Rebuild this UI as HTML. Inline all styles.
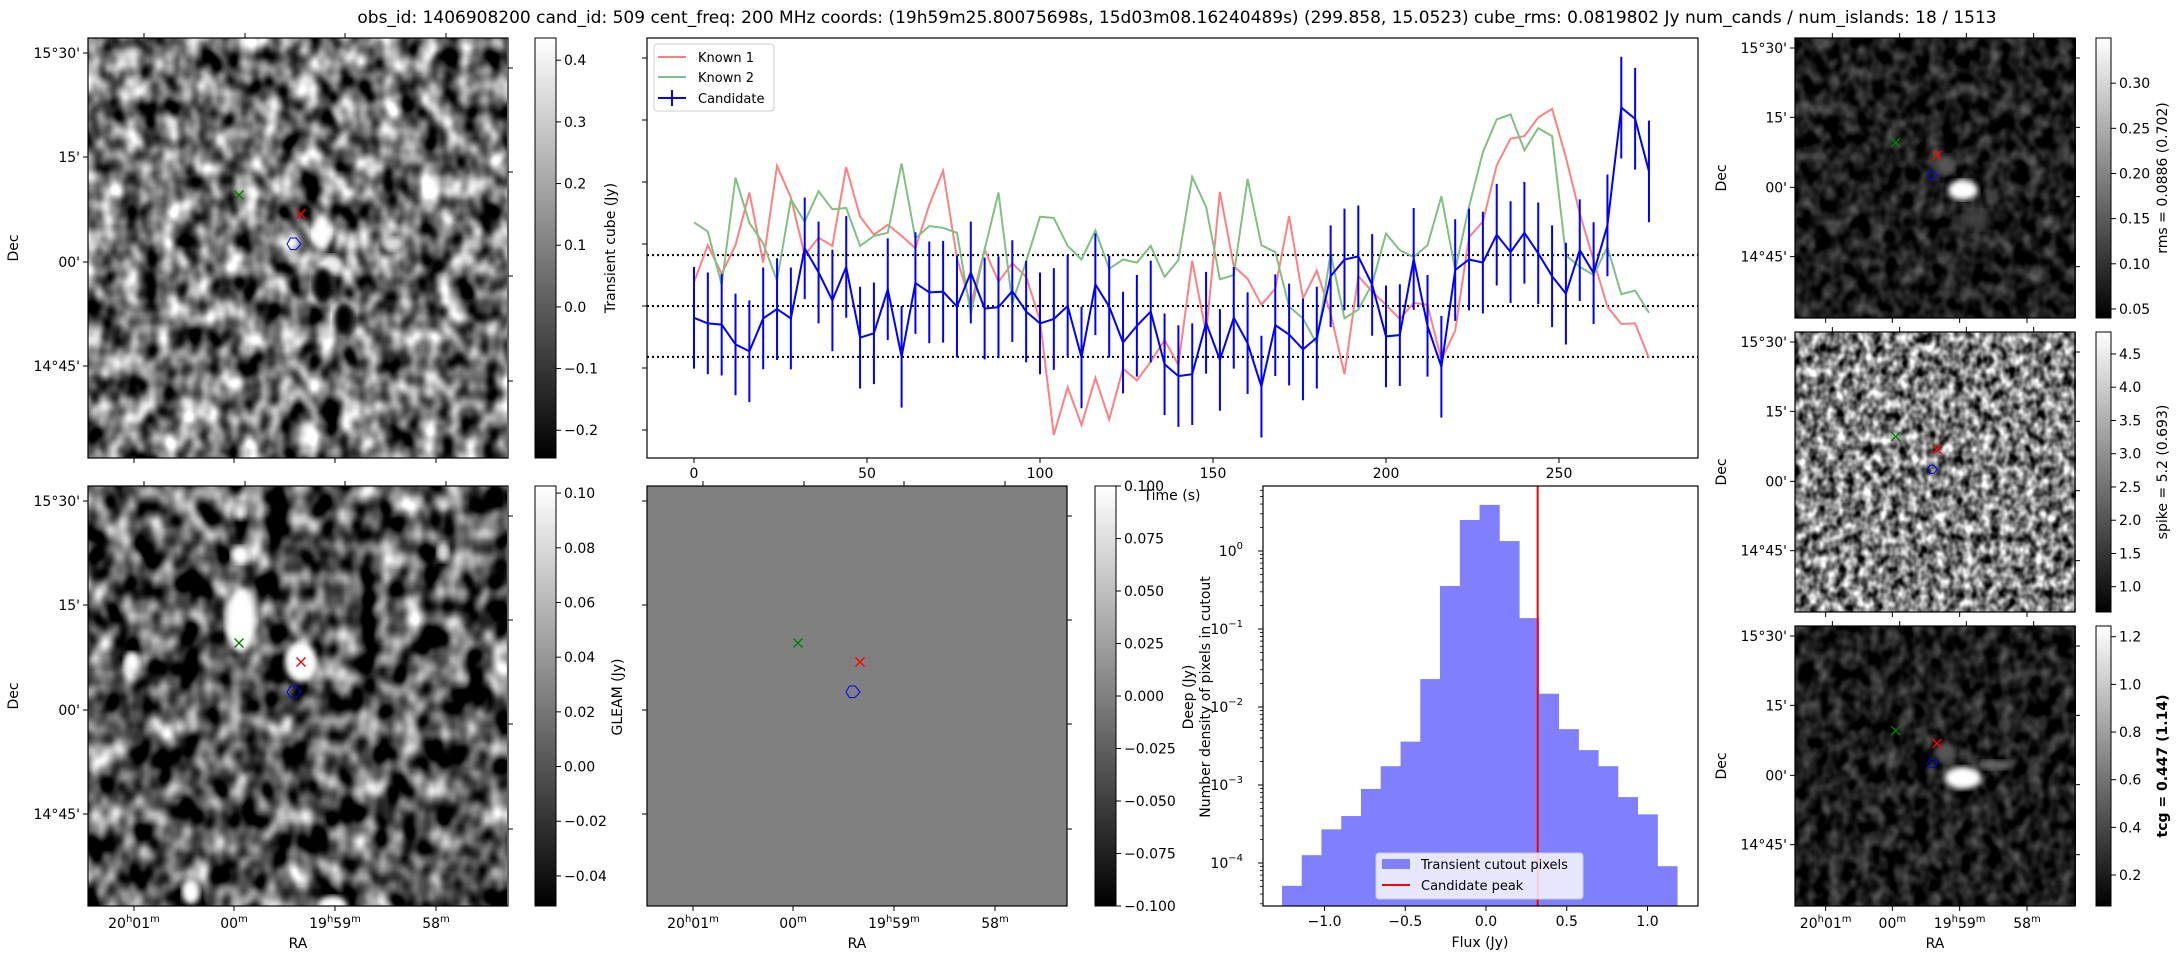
<!DOCTYPE html>
<html><head><meta charset="utf-8"><title>Candidate 509</title>
<style>
html,body{margin:0;padding:0;background:#fff;}
svg{display:block;font-family:"DejaVu Sans","Liberation Sans",sans-serif;}
filter{color-interpolation-filters:sRGB;}
</style></head>
<body>
<svg id="fig" xmlns="http://www.w3.org/2000/svg" width="2179" height="960" viewBox="0 0 2179 960">
<defs>
<linearGradient id="gray" x1="0" y1="1" x2="0" y2="0"><stop offset="0" stop-color="#000"/><stop offset="1" stop-color="#fff"/></linearGradient>
<filter id="fTL" color-interpolation-filters="sRGB" filterUnits="userSpaceOnUse" x="88" y="38" width="419" height="420"><feTurbulence type="fractalNoise" baseFrequency="0.05 0.04" numOctaves="2" seed="3"/><feColorMatrix type="matrix" values="1.9 0 0 0 -0.5  1.9 0 0 0 -0.5  1.9 0 0 0 -0.5  0 0 0 0 1"/></filter>
<filter id="fBL" color-interpolation-filters="sRGB" filterUnits="userSpaceOnUse" x="88" y="486" width="419" height="420"><feTurbulence type="fractalNoise" baseFrequency="0.045 0.035" numOctaves="2" seed="11"/><feColorMatrix type="matrix" values="2.0 0 0 0 -0.68  2.0 0 0 0 -0.68  2.0 0 0 0 -0.68  0 0 0 0 1"/></filter>
<filter id="fTR" color-interpolation-filters="sRGB" filterUnits="userSpaceOnUse" x="1795" y="38" width="281" height="280"><feTurbulence type="fractalNoise" baseFrequency="0.07 0.06" numOctaves="2" seed="5"/><feColorMatrix type="matrix" values="0.7 0 0 0 -0.24  0.7 0 0 0 -0.24  0.7 0 0 0 -0.24  0 0 0 0 1"/></filter>
<filter id="fMR" color-interpolation-filters="sRGB" filterUnits="userSpaceOnUse" x="1795" y="332" width="281" height="280"><feTurbulence type="fractalNoise" baseFrequency="0.11 0.09" numOctaves="2" seed="8"/><feColorMatrix type="matrix" values="1.8 0 0 0 -0.4  1.8 0 0 0 -0.4  1.8 0 0 0 -0.4  0 0 0 0 1"/></filter>
<filter id="fBR" color-interpolation-filters="sRGB" filterUnits="userSpaceOnUse" x="1795" y="626" width="281" height="280"><feTurbulence type="fractalNoise" baseFrequency="0.07 0.06" numOctaves="2" seed="9"/><feColorMatrix type="matrix" values="0.7 0 0 0 -0.24  0.7 0 0 0 -0.24  0.7 0 0 0 -0.24  0 0 0 0 1"/></filter>
<filter id="blur3" color-interpolation-filters="sRGB"><feGaussianBlur stdDeviation="3"/></filter>
<filter id="blur5" color-interpolation-filters="sRGB"><feGaussianBlur stdDeviation="5"/></filter>
<clipPath id="cTL"><rect x="88" y="38" width="419" height="420"/></clipPath>
<clipPath id="cBL"><rect x="88" y="486" width="419" height="420"/></clipPath>
<clipPath id="cTR"><rect x="1795" y="38" width="281" height="280"/></clipPath>
<clipPath id="cBR"><rect x="1795" y="626" width="281" height="280"/></clipPath>
<clipPath id="cLC"><rect x="647" y="38" width="1051" height="420"/></clipPath>
</defs>

<text x="1177" y="23" font-size="17" text-anchor="middle">obs_id: 1406908200 cand_id: 509 cent_freq: 200 MHz coords: (19h59m25.80075698s, 15d03m08.16240489s) (299.858, 15.0523) cube_rms: 0.0819802 Jy num_cands / num_islands: 18 / 1513</text>

<g>
<rect x="88" y="38" width="419" height="420" fill="#777"/>
<rect x="88" y="38" width="419" height="420" filter="url(#fTL)"/>
<g clip-path="url(#cTL)">
<ellipse cx="322" cy="232" rx="9" ry="18" fill="#fff" filter="url(#blur3)"/>
<ellipse cx="330" cy="265" rx="12" ry="10" fill="#eee" filter="url(#blur3)"/>
<ellipse cx="323" cy="285" rx="10" ry="17" fill="#000" filter="url(#blur3)"/>
<ellipse cx="344" cy="318" rx="10" ry="15" fill="#000" filter="url(#blur3)"/>
<ellipse cx="393" cy="244" rx="10" ry="7" fill="#ddd" filter="url(#blur3)"/>
</g></g>
<g>
<rect x="88" y="486" width="419" height="420" fill="#555"/>
<rect x="88" y="486" width="419" height="420" filter="url(#fBL)"/>
<g clip-path="url(#cBL)">
<ellipse cx="241" cy="620" rx="15" ry="32" fill="#fff" filter="url(#blur3)"/>
<ellipse cx="301" cy="662" rx="16" ry="20" fill="#fff" filter="url(#blur3)"/>
<ellipse cx="132" cy="662" rx="8" ry="10" fill="#fff" filter="url(#blur3)"/>
<ellipse cx="240" cy="555" rx="9" ry="9" fill="#fff" filter="url(#blur3)"/>
<ellipse cx="240" cy="512" rx="6" ry="8" fill="#eee" filter="url(#blur3)"/>
<ellipse cx="443" cy="552" rx="6" ry="10" fill="#ddd" filter="url(#blur3)"/>
<ellipse cx="191" cy="892" rx="9" ry="12" fill="#fff" filter="url(#blur3)"/>
<ellipse cx="333" cy="906" rx="14" ry="10" fill="#fff" filter="url(#blur3)"/>
</g></g>
<rect x="647" y="486" width="420" height="420" fill="#808080"/>
<g>
<rect x="1795" y="38" width="281" height="280" fill="#111"/>
<rect x="1795" y="38" width="281" height="280" filter="url(#fTR)"/>
<g clip-path="url(#cTR)">
<ellipse cx="1963" cy="190" rx="15" ry="10" fill="#fff" filter="url(#blur3)"/>
<ellipse cx="1945" cy="165" rx="10" ry="10" fill="#555" filter="url(#blur3)"/>
<ellipse cx="1975" cy="220" rx="16" ry="10" fill="#444" filter="url(#blur5)"/>
</g></g>
<g>
<rect x="1795" y="332" width="281" height="280" fill="#888"/>
<rect x="1795" y="332" width="281" height="280" filter="url(#fMR)"/>
</g>
<g>
<rect x="1795" y="626" width="281" height="280" fill="#111"/>
<rect x="1795" y="626" width="281" height="280" filter="url(#fBR)"/>
<g clip-path="url(#cBR)">
<ellipse cx="1963" cy="778" rx="18" ry="11" fill="#fff" filter="url(#blur3)"/>
<ellipse cx="1945" cy="752" rx="10" ry="10" fill="#555" filter="url(#blur3)"/>
<ellipse cx="1995" cy="765" rx="18" ry="5" fill="#666" filter="url(#blur3)"/>
</g></g>

<rect x="535" y="38" width="21" height="420" fill="url(#gray)" stroke="#000" stroke-width="1"/>
<rect x="535" y="486" width="21" height="420" fill="url(#gray)" stroke="#000" stroke-width="1"/>
<rect x="1095" y="486" width="21" height="420" fill="url(#gray)" stroke="#000" stroke-width="1"/>
<rect x="2096" y="38" width="15" height="280" fill="url(#gray)" stroke="#000" stroke-width="1"/>
<rect x="2096" y="332" width="15" height="280" fill="url(#gray)" stroke="#000" stroke-width="1"/>
<rect x="2096" y="626" width="15" height="280" fill="url(#gray)" stroke="#000" stroke-width="1"/>

<g id="dyn"></g>

<text transform="translate(615,248) rotate(-90)" font-size="14" text-anchor="middle">Transient cube (Jy)</text>
<text transform="translate(622,697) rotate(-90)" font-size="14" text-anchor="middle">GLEAM (Jy)</text>
<text transform="translate(1193,697) rotate(-90)" font-size="14" text-anchor="middle">Deep (Jy)</text>
<text transform="translate(2167,178) rotate(-90)" font-size="14" text-anchor="middle">rms = 0.0886 (0.702)</text>
<text transform="translate(2167,472) rotate(-90)" font-size="14" text-anchor="middle">spike = 5.2 (0.693)</text>
<text transform="translate(2167,766) rotate(-90)" font-size="14" font-weight="bold" text-anchor="middle">tcg = 0.447 (1.14)</text>
<text x="1172" y="500" font-size="14" text-anchor="middle">Time (s)</text>
<text transform="translate(1210,697) rotate(-90)" font-size="14" text-anchor="middle">Number density of pixels in cutout</text>
<text x="1480" y="947" font-size="14" text-anchor="middle">Flux (Jy)</text>
</svg>

<script>
// ---------- light curve data ----------
const times = [0,4,8,12,16,20,24,28,32,36,40,44,48,52,56,60,64,68,72,76,80,84,88,92,96,100,104,108,112,116,120,124,128,132,136,140,144,148,152,156,160,164,168,172,176,180,184,188,192,196,200,204,208,212,216,220,224,228,232,236,240,244,248,252,256,260,264,268,272,276];
const candidateFlux = [-0.019,-0.028,-0.030,-0.062,-0.073,-0.020,-0.005,-0.020,0.093,0.054,0.009,0.063,-0.051,-0.044,0.027,-0.082,0.037,0.022,0.023,-0.001,0.054,-0.004,-0.002,0.024,-0.009,-0.028,-0.021,0.000,-0.083,0.035,-0.001,-0.059,-0.032,-0.009,-0.094,-0.113,-0.110,-0.027,-0.087,-0.019,-0.060,-0.130,-0.031,-0.046,-0.070,-0.051,0.048,0.075,0.080,0.034,-0.049,-0.047,0.076,-0.032,-0.098,0.058,0.075,0.070,0.115,0.087,0.118,0.085,0.048,0.020,0.090,0.053,0.130,0.320,0.302,0.217];
const known1Flux = [0.038,0.098,0.052,0.098,0.183,0.070,0.226,0.175,0.082,0.110,0.097,0.224,0.144,0.115,0.131,0.113,0.093,0.163,0.218,0.077,0.002,0.091,0.039,0.069,0.047,-0.023,-0.208,-0.131,-0.192,-0.116,-0.183,-0.101,-0.120,-0.090,-0.055,-0.095,0.073,-0.044,0.184,0.064,0.044,0.002,0.028,0.145,0.012,0.057,-0.012,-0.110,0.048,0.023,0.002,-0.021,0.005,0.002,-0.087,-0.040,0.111,0.136,0.227,0.270,0.274,0.304,0.318,0.240,0.149,0.074,-0.001,-0.029,-0.028,-0.084];
const known2Flux = [0.135,0.120,0.034,0.207,0.134,0.101,0.041,0.172,0.136,0.185,0.156,0.158,0.097,0.113,0.118,0.230,0.109,0.129,0.126,0.118,-0.013,0.091,0.183,0.005,0.072,0.144,0.142,0.097,0.075,0.122,0.060,0.075,0.070,0.097,0.047,0.074,0.208,0.160,0.043,0.050,0.205,0.098,0.087,-0.001,-0.020,-0.061,0.085,-0.020,-0.006,0.036,0.117,0.090,0.079,0.098,0.177,0.058,0.160,0.248,0.301,0.309,0.251,0.287,0.274,0.082,0.063,0.050,0.095,0.019,0.025,-0.011];
const cubeRms = 0.082;
const timeTicks = [0,50,100,150,200,250];
const fluxTicks = [0.4,0.3,0.2,0.1,0.0,-0.1,-0.2];
// ---------- histogram data ----------
const histEdges = [-1.263,-1.141,-1.019,-0.896,-0.774,-0.652,-0.529,-0.407,-0.285,-0.162,-0.040,0.082,0.205,0.327,0.449,0.572,0.694,0.816,0.938,1.061,1.183];
const histDensity = [5.1e-5,1.26e-4,2.7e-4,4.0e-4,8.9e-4,1.74e-3,3.6e-3,0.0228,0.356,2.5,3.9,1.34,0.138,0.0148,5.2e-3,2.8e-3,1.74e-3,7.0e-4,4.2e-4,9.1e-5];
const candidatePeak = 0.32;
const histXTicks = [-1.0,-0.5,0.0,0.5,1.0];
const histXTickLabels = ["\u22121.0","\u22120.5","0.0","0.5","1.0"];
const histDecades = [0,-1,-2,-3,-4];
// ---------- colorbar ticks ----------
const transientTicks = [0.4,0.3,0.2,0.1,0.0,-0.1,-0.2];
const gleamTicks = [0.10,0.08,0.06,0.04,0.02,0.00,-0.02,-0.04];
const deepTicks = [0.100,0.075,0.050,0.025,0.000,-0.025,-0.050,-0.075,-0.100];
const rmsTicks = [0.30,0.25,0.20,0.15,0.10,0.05];
const spikeTicks = [4.5,4.0,3.5,3.0,2.5,2.0,1.5,1.0];
const tcgTicks = [1.2,1.0,0.8,0.6,0.4,0.2];
const decLabels = ["15\u00b030'","15'","00'","14\u00b045'"];

const NS = "http://www.w3.org/2000/svg";
const root = document.getElementById('dyn');
function mk(tag, attrs, parent){
  const e = document.createElementNS(NS, tag);
  for (const k in attrs) e.setAttribute(k, attrs[k]);
  (parent||root).appendChild(e);
  return e;
}
function txt(str, attrs, parent){
  const e = mk('text', attrs, parent);
  e.textContent = str;
  return e;
}
function fmtMinus(v, d){ const s = v.toFixed(d); return s.replace('-', '\u2212'); }

// ---------- light curve ----------
const LC = {x0:647, x1:1698, y0:38, y1:458};
function tx(t){ return 694 + t*3.46; }
function fy(v){ return 306 - v*620; }

const lcFrame = mk('rect', {x:LC.x0, y:LC.y0, width:LC.x1-LC.x0, height:LC.y1-LC.y0, fill:'none', stroke:'#000', 'stroke-width':1.2});



const lcG = mk('g', {'clip-path':'url(#cLC)'});



[0, cubeRms, -cubeRms].forEach(function(v){
  const l = mk('line', {x1:LC.x0, x2:LC.x1, y1:fy(v), y2:fy(v), stroke:'#000', 'stroke-width':2, 'stroke-dasharray':'2,3'}, lcG);
  
  
});

function seriesPath(vals){
  return vals.map(function(v,i){ return (i?'L':'M') + tx(times[i]).toFixed(1) + ',' + fy(v).toFixed(1); }).join('');
}
const k1 = mk('path', {d:seriesPath(known1Flux), fill:'none', stroke:'#ff8080', 'stroke-width':2}, lcG);


const k2 = mk('path', {d:seriesPath(known2Flux), fill:'none', stroke:'#80c080', 'stroke-width':2}, lcG);


candidateFlux.forEach(function(v,i){
  const eb = mk('line', {x1:tx(times[i]), x2:tx(times[i]), y1:fy(v+cubeRms), y2:fy(v-cubeRms), stroke:'#0000ff', 'stroke-width':2}, lcG);
  
  
});
const cl = mk('path', {d:seriesPath(candidateFlux), fill:'none', stroke:'#0000ff', 'stroke-width':2}, lcG);



timeTicks.forEach(function(t){
  mk('line', {x1:tx(t), x2:tx(t), y1:LC.y1, y2:LC.y1+5, stroke:'#000', 'stroke-width':1});
  const lab = txt(String(t), {x:tx(t), y:LC.y1+20, 'font-size':14, 'text-anchor':'middle'});
  
  
});
fluxTicks.forEach(function(v){
  mk('line', {x1:LC.x0-5, x2:LC.x0, y1:fy(v), y2:fy(v), stroke:'#000', 'stroke-width':1});
});

const lg = mk('g', {});


mk('rect', {x:654, y:44, width:120, height:67, rx:3, fill:'#fff', 'fill-opacity':0.8, stroke:'#ccc'}, lg);
mk('line', {x1:658, x2:686, y1:57, y2:57, stroke:'#ff8080', 'stroke-width':2}, lg);
txt('Known 1', {x:698, y:62, 'font-size':13}, lg);
mk('line', {x1:658, x2:686, y1:77, y2:77, stroke:'#80c080', 'stroke-width':2}, lg);
txt('Known 2', {x:698, y:82, 'font-size':13}, lg);
mk('line', {x1:658, x2:686, y1:98, y2:98, stroke:'#0000ff', 'stroke-width':2}, lg);
mk('line', {x1:672, x2:672, y1:90, y2:106, stroke:'#0000ff', 'stroke-width':2}, lg);
txt('Candidate', {x:698, y:103, 'font-size':13}, lg);

// ---------- histogram ----------
const HI = {x0:1263, x1:1698, y0:486, y1:906};
function hx(f){ return 1486 + f*161.5; }
function hy(d){ return 551 - 78*Math.log10(d); }
histDensity.forEach(function(d,i){
  const r = mk('rect', {x:hx(histEdges[i]), y:hy(d), width:hx(histEdges[i+1])-hx(histEdges[i])+0.5, height:HI.y1-hy(d), fill:'#8080ff'});
  
  
});
const pk = mk('line', {x1:hx(candidatePeak), x2:hx(candidatePeak), y1:HI.y0, y2:HI.y1, stroke:'#ff0000', 'stroke-width':2});


const hf = mk('rect', {x:HI.x0, y:HI.y0, width:HI.x1-HI.x0, height:HI.y1-HI.y0, fill:'none', stroke:'#000', 'stroke-width':1.2});


histXTicks.forEach(function(f,i){
  mk('line', {x1:hx(f), x2:hx(f), y1:HI.y1, y2:HI.y1+5, stroke:'#000'});
  const l = txt(histXTickLabels[i], {x:hx(f), y:HI.y1+20, 'font-size':14, 'text-anchor':'middle'});
  
  
});
histDecades.forEach(function(p){
  const y = hy(Math.pow(10,p));
  mk('line', {x1:HI.x0-5, x2:HI.x0, y1:y, y2:y, stroke:'#000'});
  const t = txt('10', {x:1243, y:y+5, 'font-size':14, 'text-anchor':'end'});
  
  
  const sup = mk('tspan', {dy:-7, 'font-size':10}, t);
  sup.textContent = p===0 ? '0' : '\u2212' + Math.abs(p);
});
[-5,-4,-3,-2,-1,0].forEach(function(p){
  for (let m=2; m<10; m++){
    const y = hy(m*Math.pow(10,p));
    if (y > HI.y0 && y < HI.y1) mk('line', {x1:HI.x0-3, x2:HI.x0, y1:y, y2:y, stroke:'#000', 'stroke-width':0.8});
  }
});
const hl = mk('g', {});


mk('rect', {x:1376, y:853, width:207, height:46, rx:3, fill:'#fff', 'fill-opacity':0.8, stroke:'#ccc'}, hl);
mk('rect', {x:1382, y:859, width:28, height:10, fill:'#8080ff'}, hl);
txt('Transient cutout pixels', {x:1421, y:869, 'font-size':13}, hl);
mk('line', {x1:1382, x2:1410, y1:885, y2:885, stroke:'#ff0000', 'stroke-width':2}, hl);
txt('Candidate peak', {x:1421, y:890, 'font-size':13}, hl);

// ---------- colorbars ----------
function colorbar(name, x, w, y0, y1, vmin, vmax, ticks, dec){
  ticks.forEach(function(v){
    const y = y1 - (v - vmin)/(vmax - vmin)*(y1 - y0);
    mk('line', {x1:x+w, x2:x+w+5, y1:y, y2:y, stroke:'#000'});
    const l = txt(fmtMinus(v, dec), {x:x+w+8, y:y+5, 'font-size':14});
    
    
  });
}
colorbar('transient-colorbar', 535, 21, 38, 458, -0.245, 0.436, transientTicks, 1);
colorbar('gleam-colorbar', 535, 21, 486, 906, -0.051, 0.1026, gleamTicks, 2);
colorbar('deep-colorbar', 1095, 21, 486, 906, -0.1, 0.1, deepTicks, 3);
colorbar('rms-colorbar', 2096, 15, 38, 318, 0.04, 0.35, rmsTicks, 2);
colorbar('spike-colorbar', 2096, 15, 332, 612, 0.62, 4.83, spikeTicks, 1);
colorbar('tcg-colorbar', 2096, 15, 626, 906, 0.07, 1.245, tcgTicks, 1);

// ---------- WCS panels ----------
function raLabel(parent, x, y, parts){
  const t = txt('', {x:x, y:y, 'font-size':14, 'text-anchor':'middle'}, parent);
  
  
  parts.forEach(function(p){
    const s = mk('tspan', p[1] ? {'font-size':10, dy:-6} : {'font-size':14, dy:6}, t);
    s.textContent = p[0];
  });
  t.firstChild.setAttribute('dy', 0);
  return t;
}
function wcsPanel(name, x, y, s, showRA, decTitleX, showDec){
  const k = s/420;
  const g = mk('g', {});
  
  
  mk('rect', {x:x, y:y, width:s, height:s, fill:'none', stroke:'#000', 'stroke-width':1.2}, g);
  [15,119,224,328].forEach(function(o,i){
    mk('line', {x1:x-5, x2:x, y1:y+o*k, y2:y+o*k, stroke:'#000'}, g);
    if (showDec){
      const l = txt(decLabels[i], {x:x-8, y:y+o*k+5, 'font-size':14, 'text-anchor':'end'}, g);
      
      
    }
  });
  [30,134,238,343].forEach(function(o){ mk('line', {x1:x+s, x2:x+s+5, y1:y+o*k, y2:y+o*k, stroke:'#000'}, g); });
  [56,157,257,358].forEach(function(o){ mk('line', {x1:x+o*k, x2:x+o*k, y1:y-5, y2:y, stroke:'#000'}, g); });
  [46,146,247,348].forEach(function(o){ mk('line', {x1:x+o*k, x2:x+o*k, y1:y+s, y2:y+s+5, stroke:'#000'}, g); });
  if (showDec){
    const dt = txt('Dec', {transform:'translate(' + decTitleX + ',' + (y+s/2) + ') rotate(-90)', 'font-size':14, 'text-anchor':'middle'}, g);
    
    
  }
  if (showRA){
    const by = y + s + 22;
    raLabel(g, x+46*k, by, [['20',0],['h',1],['01',0],['m',1]]);
    raLabel(g, x+146*k, by, [['00',0],['m',1]]);
    raLabel(g, x+247*k, by, [['19',0],['h',1],['59',0],['m',1]]);
    raLabel(g, x+348*k, by, [['58',0],['m',1]]);
    const rt = txt('RA', {x:x+s/2, y:y+s+42, 'font-size':14, 'text-anchor':'middle'}, g);
    
    
  }
  function cross(cx, cy, col, nm){
    const c = mk('path', {d:'M'+(cx-4.5)+','+(cy-4.5)+'L'+(cx+4.5)+','+(cy+4.5)+'M'+(cx-4.5)+','+(cy+4.5)+'L'+(cx+4.5)+','+(cy-4.5), stroke:col, 'stroke-width':1.4, fill:'none'}, g);
    
    
  }
  cross(x+151*k, y+157*k, '#008000', 'known-2-marker');
  cross(x+213*k, y+176*k, '#ff0000', 'known-1-marker');
  const bx = x+206*k, by2 = y+206*k, r = s > 300 ? 7 : 5;
  const hex = mk('path', {d:'M'+(bx-r)+','+by2+'L'+(bx-r*0.5)+','+(by2-r*0.85)+'L'+(bx+r*0.3)+','+(by2-r*0.85)+'L'+(bx+r)+','+by2+'L'+(bx+r*0.3)+','+(by2+r*0.8)+'L'+(bx-r*0.5)+','+(by2+r*0.8)+'Z', stroke:'#0000ff', 'stroke-width':1, fill:'none'}, g);
  
  
}
wcsPanel('transient-cube', 88, 38, 420, false, 18, true);
wcsPanel('gleam', 88, 486, 420, true, 18, true);
wcsPanel('deep', 647, 486, 420, true, -100, false);
wcsPanel('rms', 1795, 38, 280, false, 1726, true);
wcsPanel('spike', 1795, 332, 280, false, 1726, true);
wcsPanel('tcg', 1795, 626, 280, true, 1726, true);
</script>
</body></html>
